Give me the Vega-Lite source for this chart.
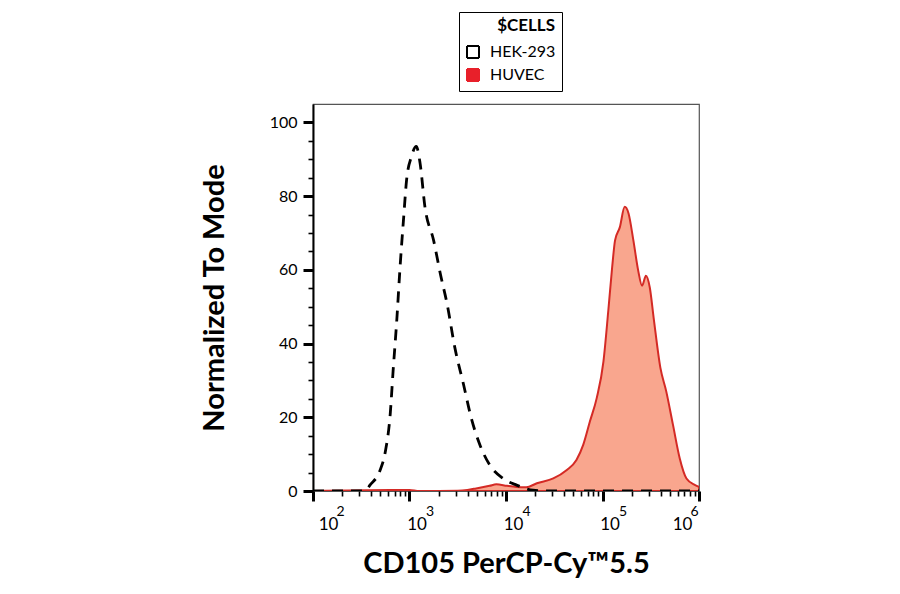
{
  "$schema": "https://vega.github.io/schema/vega-lite/v6.json",
  "width": 386,
  "height": 387,
  "autosize": {"type": "none"},
  "padding": {"left": 313, "top": 104, "right": 201, "bottom": 103},
  "background": "white",
  "data": {
    "values": [
      {"cells": "HEK-293", "intensity": 100, "mode": 0},
      {"cells": "HEK-293", "intensity": 316, "mode": 0},
      {"cells": "HEK-293", "intensity": 355, "mode": 0.2},
      {"cells": "HEK-293", "intensity": 389, "mode": 1.6},
      {"cells": "HEK-293", "intensity": 490, "mode": 5.3},
      {"cells": "HEK-293", "intensity": 562, "mode": 10.7},
      {"cells": "HEK-293", "intensity": 631, "mode": 20.8},
      {"cells": "HEK-293", "intensity": 676, "mode": 32.5},
      {"cells": "HEK-293", "intensity": 741, "mode": 47},
      {"cells": "HEK-293", "intensity": 794, "mode": 59.8},
      {"cells": "HEK-293", "intensity": 871, "mode": 74.4},
      {"cells": "HEK-293", "intensity": 933, "mode": 84.4},
      {"cells": "HEK-293", "intensity": 1047, "mode": 90.7},
      {"cells": "HEK-293", "intensity": 1175, "mode": 93.5},
      {"cells": "HEK-293", "intensity": 1288, "mode": 88.9},
      {"cells": "HEK-293", "intensity": 1445, "mode": 77.1},
      {"cells": "HEK-293", "intensity": 1778, "mode": 68},
      {"cells": "HEK-293", "intensity": 2089, "mode": 58.9},
      {"cells": "HEK-293", "intensity": 2455, "mode": 50.7},
      {"cells": "HEK-293", "intensity": 2951, "mode": 38.9},
      {"cells": "HEK-293", "intensity": 3631, "mode": 28.9},
      {"cells": "HEK-293", "intensity": 4365, "mode": 19.8},
      {"cells": "HEK-293", "intensity": 5370, "mode": 12.5},
      {"cells": "HEK-293", "intensity": 6761, "mode": 7.1},
      {"cells": "HEK-293", "intensity": 9333, "mode": 3.4},
      {"cells": "HEK-293", "intensity": 12882, "mode": 1.6},
      {"cells": "HEK-293", "intensity": 19055, "mode": 0.2},
      {"cells": "HEK-293", "intensity": 31623, "mode": 0},
      {"cells": "HEK-293", "intensity": 1000000, "mode": 0},
      {"cells": "HUVEC", "intensity": 100, "mode": 0},
      {"cells": "HUVEC", "intensity": 631, "mode": 0.3},
      {"cells": "HUVEC", "intensity": 1000, "mode": 0.3},
      {"cells": "HUVEC", "intensity": 1259, "mode": 0},
      {"cells": "HUVEC", "intensity": 3162, "mode": 0.1},
      {"cells": "HUVEC", "intensity": 3981, "mode": 0.3},
      {"cells": "HUVEC", "intensity": 4898, "mode": 0.7},
      {"cells": "HUVEC", "intensity": 6761, "mode": 1.4},
      {"cells": "HUVEC", "intensity": 7943, "mode": 1.8},
      {"cells": "HUVEC", "intensity": 10233, "mode": 1.4},
      {"cells": "HUVEC", "intensity": 12882, "mode": 1.1},
      {"cells": "HUVEC", "intensity": 16218, "mode": 1.0},
      {"cells": "HUVEC", "intensity": 20893, "mode": 2.1},
      {"cells": "HUVEC", "intensity": 30903, "mode": 3.4},
      {"cells": "HUVEC", "intensity": 42658, "mode": 5.7},
      {"cells": "HUVEC", "intensity": 53703, "mode": 8.4},
      {"cells": "HUVEC", "intensity": 63096, "mode": 12.5},
      {"cells": "HUVEC", "intensity": 74131, "mode": 18.9},
      {"cells": "HUVEC", "intensity": 87096, "mode": 25.2},
      {"cells": "HUVEC", "intensity": 102329, "mode": 35.2},
      {"cells": "HUVEC", "intensity": 114815, "mode": 48.9},
      {"cells": "HUVEC", "intensity": 125893, "mode": 60.7},
      {"cells": "HUVEC", "intensity": 134896, "mode": 68},
      {"cells": "HUVEC", "intensity": 151356, "mode": 71.6},
      {"cells": "HUVEC", "intensity": 169824, "mode": 77.1},
      {"cells": "HUVEC", "intensity": 186209, "mode": 75.3},
      {"cells": "HUVEC", "intensity": 208930, "mode": 68},
      {"cells": "HUVEC", "intensity": 234423, "mode": 59.8},
      {"cells": "HUVEC", "intensity": 257040, "mode": 55.7},
      {"cells": "HUVEC", "intensity": 281838, "mode": 58.4},
      {"cells": "HUVEC", "intensity": 309030, "mode": 55.2},
      {"cells": "HUVEC", "intensity": 338844, "mode": 47},
      {"cells": "HUVEC", "intensity": 398107, "mode": 33.4},
      {"cells": "HUVEC", "intensity": 457088, "mode": 27.1},
      {"cells": "HUVEC", "intensity": 537032, "mode": 18},
      {"cells": "HUVEC", "intensity": 630957, "mode": 8.9},
      {"cells": "HUVEC", "intensity": 741310, "mode": 3.4},
      {"cells": "HUVEC", "intensity": 912011, "mode": 1.6},
      {"cells": "HUVEC", "intensity": 1000000, "mode": 1.1}
    ]
  },
  "encoding": {
    "y": {
      "field": "mode",
      "type": "quantitative",
      "scale": {"domain": [0, 105], "nice": false},
      "axis": {
        "title": "Normalized To Mode",
        "values": [0, 5, 10, 15, 20, 25, 30, 35, 40, 45, 50, 55, 60, 65, 70, 75, 80, 85, 90, 95, 100],
        "labelExpr": "datum.value % 20 == 0 ? datum.label : ''",
        "tickSize": {"condition": {"test": "datum.value % 20 == 0", "value": 10}, "value": 5},
        "tickWidth": {"condition": {"test": "datum.value % 20 == 0", "value": 3}, "value": 1.6},
        "labelPadding": 6,
        "labelFontSize": 16,
        "titlePadding": 40
      }
    }
  },
  "layer": [
    {
      "transform": [{"filter": "datum.cells == 'HUVEC'"}],
      "mark": {"type": "area", "interpolate": "monotone", "fill": "#f9a68e", "stroke": "#d42a25", "strokeWidth": 2, "clip": true},
      "encoding": {
        "x": {
          "field": "intensity",
          "type": "quantitative",
          "scale": {"type": "log", "domain": [100, 1000000], "nice": false},
          "axis": {
            "orient": "bottom",
            "title": "CD105 PerCP-Cy™5.5",
            "values": [100, 200, 300, 400, 500, 600, 700, 800, 900, 1000, 2000, 3000, 4000, 5000, 6000, 7000, 8000, 9000, 10000, 20000, 30000, 40000, 50000, 60000, 70000, 80000, 90000, 100000, 200000, 300000, 400000, 500000, 600000, 700000, 800000, 900000, 1000000],
            "labelExpr": "indexof([100, 1000, 10000, 100000, 1000000], datum.value) >= 0 ? '10' : ''",
            "domain": false,
            "tickSize": {"condition": {"test": "indexof([100, 1000, 10000, 100000, 1000000], datum.value) >= 0", "value": 10}, "value": 5},
            "tickWidth": {"condition": {"test": "indexof([100, 1000, 10000, 100000, 1000000], datum.value) >= 0", "value": 3}, "value": 1.6},
            "labelPadding": 15,
            "labelFontSize": 17,
            "labelFlush": false,
            "labelOffset": {"condition": [{"test": "datum.value == 100", "value": 15}, {"test": "datum.value == 1000000", "value": -17}], "value": 7},
            "titlePadding": 17
          }
        }
      }
    },
    {
      "transform": [{"filter": "datum.cells == 'HEK-293'"}],
      "mark": {"type": "line", "interpolate": "monotone", "strokeDash": [11, 8], "strokeWidth": 2.8, "clip": true},
      "encoding": {
        "x": {
          "field": "intensity",
          "type": "quantitative",
          "scale": {"type": "log", "domain": [100, 1000000], "nice": false},
          "axis": {
            "orient": "bottom",
            "title": null,
            "values": [100, 1000, 10000, 100000, 1000000],
            "labelExpr": "datum.value == 100 ? '2' : datum.value == 1000 ? '3' : datum.value == 10000 ? '4' : datum.value == 100000 ? '5' : '6'",
            "domain": false,
            "ticks": false,
            "labelPadding": 13,
            "labelFontSize": 14,
            "labelFlush": false,
            "labelOffset": {"condition": [{"test": "datum.value == 100", "value": 27}, {"test": "datum.value == 1000000", "value": -5}], "value": 20}
          }
        },
        "stroke": {
          "field": "cells",
          "type": "nominal",
          "scale": {"domain": ["HEK-293", "HUVEC"], "range": ["#000000", "#e8202a"]},
          "legend": {
            "title": "$CELLS",
            "orient": "none",
            "legendX": 146,
            "legendY": -92,
            "symbolType": "square",
            "symbolSize": 144,
            "symbolStrokeWidth": 2,
            "symbolDash": [1, 0],
            "padding": 6,
            "rowPadding": 3,
            "titlePadding": 9,
            "labelOffset": 9,
            "strokeColor": "#000000",
            "titleAnchor": "end",
            "encode": {
              "symbols": {
                "update": {
                  "fill": {"signal": "datum.value == 'HUVEC' ? '#e8202a' : '#ffffff'"},
                  "stroke": {"signal": "datum.value == 'HUVEC' ? '#e8202a' : '#000000'"},
                  "fillOpacity": {"value": 1},
                  "strokeDash": {"value": [1, 0]}
                }
              }
            }
          }
        }
      }
    }
  ],
  "resolve": {"axis": {"x": "independent"}},
  "config": {
    "font": "Lato",
    "view": {"stroke": "#555555", "strokeWidth": 1.2},
    "axis": {
      "grid": false,
      "domainColor": "#000000",
      "domainWidth": 2,
      "tickColor": "#000000",
      "labelColor": "#000000",
      "labelFont": "Lato",
      "titleFont": "Lato",
      "titleFontSize": 29,
      "titleFontWeight": "bold",
      "titleColor": "#000000"
    },
    "legend": {
      "titleFont": "Lato",
      "titleFontSize": 17,
      "titleFontWeight": "bold",
      "titleColor": "#000000",
      "labelFont": "Lato",
      "labelFontSize": 16,
      "labelColor": "#000000"
    }
  }
}
